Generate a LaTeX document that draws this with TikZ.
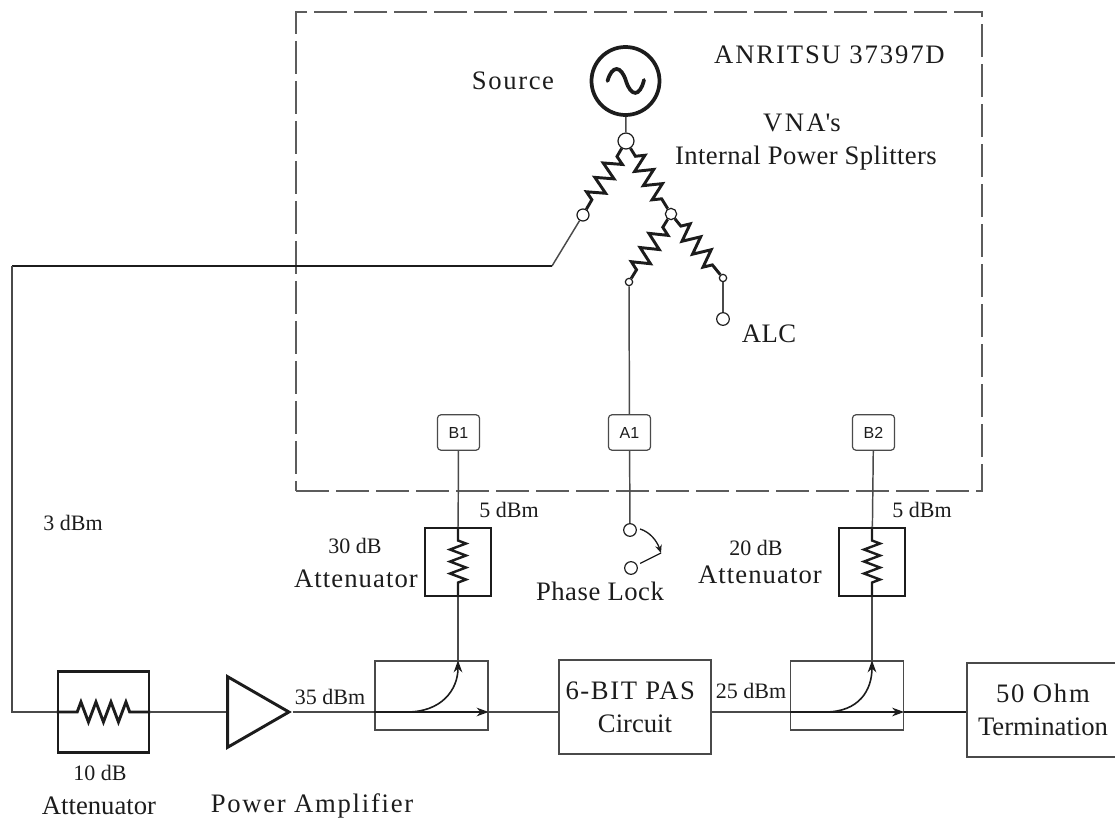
\documentclass[tikz,border=0pt]{standalone}
\usepackage{fontspec}
\setmainfont{Liberation Serif}
\newfontfamily\portfont{Liberation Sans}
\usetikzlibrary{arrows.meta,calc,decorations.pathmorphing,shapes.geometric}
\definecolor{LineGrey}{HTML}{4A4A4A}
\definecolor{DashGrey}{HTML}{5C5C5C}
\definecolor{InkDark}{HTML}{1C1C1C}
\tikzset{
  bigtext/.style={
    text=InkDark,
    inner sep=0pt,
    align=center,
    font=\fontsize{20}{24.75}\selectfont\addfontfeature{LetterSpace=#1}
  },
  bigtext/.default=0,
  smalltext/.style={
    text=InkDark,
    inner sep=0pt,
    font=\fontsize{16.5}{20}\selectfont
  },
  thinline/.style={draw=LineGrey,line width=1.1pt},
  thickline/.style={draw=InkDark,line width=1.9pt},
  heavybox/.style={draw=InkDark,line width=2.2pt,inner sep=0pt},
  couplerbox/.style={draw=LineGrey,line width=.9pt,inner sep=0pt,minimum width=84.75pt,minimum height=51.75pt},
  blockbox/.style={draw=LineGrey,line width=1.2pt,inner sep=0pt,minimum width=114pt,minimum height=70.5pt},
  portbox/.style={
    draw=LineGrey,
    line width=.9pt,
    rounded corners=2.5pt,
    inner sep=0pt,
    minimum width=31.5pt,
    minimum height=26.5pt,
    text=InkDark,
    font=\portfont\fontsize{12}{14}\selectfont
  },
  dot/.style={circle,draw=InkDark,fill=white,line width=.9pt,inner sep=0pt,minimum size=#1},
  flow/.style={-{Stealth[length=9pt,width=6.5pt]},draw=InkDark,line width=1.2pt},
  splitres/.style={
    draw=InkDark,
    line width=2.2pt,
    decorate,
    decoration={zigzag,segment length=12.5pt,amplitude=6.5pt,pre length=7pt,post length=7pt}
  },
  vertres/.style={
    draw=InkDark,
    line width=1.8pt,
    decorate,
    decoration={zigzag,segment length=9pt,amplitude=6pt,pre length=10.5pt,post length=10.5pt}
  },
  horizres/.style={
    draw=InkDark,
    line width=2.2pt,
    decorate,
    decoration={zigzag,segment length=11.25pt,amplitude=7.5pt,pre length=15.5pt,post length=13pt}
  }
}
\begin{document}
\begin{tikzpicture}[x=.75pt,y=-.75pt]
  \useasboundingbox (0,0) rectangle (1115,823);
  \node[draw=DashGrey,line width=.8pt,dash pattern=on 24.75pt off 5.25pt,inner sep=0pt,minimum width=514.5pt,minimum height=359.25pt] (vna) at (639,251.5) {};
  \node[bigtext=7] (anritsu) at (829.5,55) {ANRITSU 37397D};
  \node[bigtext=9] (vnaname) at (802,123) {VNA\textquotesingle s};
  \node[bigtext=1.5] (splitname) at (806,158) {Internal Power Splitters};
  \node[bigtext=6] (sourcename) at (513,81) {Source};
  \node[bigtext=2] (alcname) at (769,334) {ALC};

  \node[circle,draw=InkDark,line width=2.8pt,inner sep=0pt,minimum size=51pt] (source) at (625.5,81) {};
  \draw[draw=InkDark,line width=2.8pt,line cap=round] (607.5,81) .. controls (612,65) and (621,65) .. (626,81) .. controls (631,97) and (640,97) .. (644,80);

  \node[dot=12pt] (split) at (626,141) {};
  \node[dot=9pt] (splitleft) at (583,215) {};
  \node[dot=8.5pt] (splitmid) at (671,214) {};
  \node[dot=5.5pt] (splitlow) at (629,282) {};
  \node[dot=5.5pt] (splitright) at (723,278) {};
  \node[dot=9.5pt] (alc) at (723,319) {};
  \draw[thinline] (source) -- (split);
  \draw[splitres] (split) -- (splitleft);
  \draw[splitres] (split) -- (splitmid);
  \draw[splitres] (splitmid) -- (splitlow);
  \draw[splitres] (splitmid) -- (splitright);
  \draw[thinline] (splitright) -- (alc);

  \coordinate (bendtop) at (552,266);
  \coordinate (bendleft) at (12,266);
  \coordinate (bendlow) at (12,712);
  \draw[thinline] (splitleft) -- (bendtop);
  \draw[thickline] (bendtop) -- (bendleft);

  \node[portbox] (b1) at (458.5,432.5) {B1};
  \node[portbox] (a1) at (629.5,432.5) {A1};
  \node[portbox] (b2) at (873.5,432.5) {B2};
  \draw[thinline] (splitlow) -- (a1);

  \node[dot=9.5pt] (lockup) at (630,530) {};
  \node[dot=9.5pt] (lockdown) at (631,568) {};
  \coordinate (locktip) at (661,553);
  \draw[thinline] (a1) -- (lockup);
  \draw[draw=InkDark,line width=1pt,shorten <=2.5pt] (lockdown) -- (locktip);
  \draw[-{Stealth[length=6pt,width=5pt]},draw=InkDark,line width=1pt] (640,529) .. controls (650,532) and (657,541) .. (locktip);
  \node[bigtext=2] (lockname) at (600,591) {Phase Lock};

  \node[heavybox,minimum width=68.25pt,minimum height=60.75pt] (att10) at (103.5,712) {};
  \node[heavybox,minimum width=49.5pt,minimum height=51pt] (att30) at (458,562) {};
  \node[heavybox,minimum width=49.5pt,minimum height=51pt] (att20) at (872,562) {};
  \draw[horizres] (att10.west) -- (att10.east);
  \draw[vertres] (att30.north) -- (att30.south);
  \draw[vertres] (att20.north) -- (att20.south);

  \node[isosceles triangle,isosceles triangle stretches,draw=InkDark,line width=2.2pt,inner sep=0pt,minimum width=53pt,minimum height=46pt] (amp) at (248,712) {};
  \node[couplerbox] (cpl1) at (431.5,695.5) {};
  \node[couplerbox] (cpl2) at (847,695.5) {};
  \node[blockbox,bigtext] (pas) at (635,707) {{\addfontfeature{LetterSpace=6}6-BIT PAS\kern7pt}\\Circuit};
  \node[blockbox,bigtext] (term) at (1043,710) {{\addfontfeature{LetterSpace=6.5}50 Ohm}\\Termination};

  \coordinate (cpl1in) at (cpl1.west |- amp.apex);
  \coordinate (cpl1out) at (cpl1.east |- amp.apex);
  \coordinate (cpl1bend) at (407,712);
  \coordinate (cpl1top) at (cpl1.north -| att30.south);
  \coordinate (cpl2in) at (cpl2.west |- amp.apex);
  \coordinate (cpl2out) at (cpl2.east |- amp.apex);
  \coordinate (cpl2bend) at (825,712);
  \coordinate (cpl2top) at (cpl2.north -| att20.south);

  \draw[thinline,line width=1.3pt] (bendleft) -- (bendlow) -- (att10.west);
  \draw[thinline] (att10.east) -- (amp.west |- att10.east);
  \draw[thinline] (amp.apex) -- (cpl1in);
  \draw[flow] (cpl1in) -- (cpl1out);
  \draw[flow] (cpl1bend) .. controls +(34,0) and +(0,30) .. (cpl1top);
  \draw[thinline] (cpl1out) -- (pas.west |- cpl1out);
  \draw[thinline] (pas.east |- cpl2in) -- (cpl2in);
  \draw[flow] (cpl2in) -- (cpl2out);
  \draw[flow] (cpl2bend) .. controls +(34,0) and +(0,30) .. (cpl2top);
  \draw[thickline] (cpl2out) -- (term.west |- cpl2out);

  \draw[thinline] (b1) -- (att30);
  \draw[thinline] (att30) -- (cpl1top);
  \draw[thinline] (b2) -- (att20);
  \draw[thinline] (att20) -- (cpl2top);

  \node[smalltext] (dbm3) at (73,523) {3 dBm};
  \node[smalltext] (db30) at (355,546) {30 dB};
  \node[bigtext=4] (att30name) at (356,579) {Attenuator};
  \node[smalltext] (dbm5a) at (509,510) {5 dBm};
  \node[smalltext] (db20) at (756,548) {20 dB};
  \node[bigtext=4] (att20name) at (760,575) {Attenuator};
  \node[smalltext] (dbm5b) at (922,510) {5 dBm};
  \node[smalltext] (dbm35) at (330,697) {35 dBm};
  \node[smalltext] (dbm25) at (751,691) {25 dBm};
  \node[smalltext] (db10) at (100,773) {10 dB};
  \node[bigtext] (att10name) at (99,806) {Attenuator};
  \node[bigtext=6.5] (ampname) at (312,806) {Power Amplifier};
\end{tikzpicture}
\end{document}
